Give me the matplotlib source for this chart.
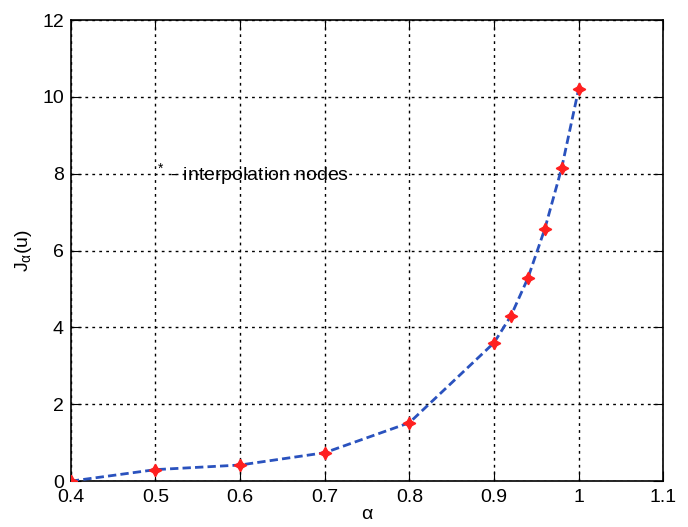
import numpy as np
import matplotlib.pyplot as plt

plt.rcParams['font.family'] = ['Liberation Sans', 'DejaVu Sans']
plt.rcParams['mathtext.fontset'] = 'custom'
plt.rcParams['mathtext.rm'] = 'Liberation Sans'
plt.rcParams['mathtext.it'] = 'Liberation Sans'

# interpolation nodes
alpha = [0.4, 0.5, 0.6, 0.7, 0.8, 0.9, 0.92, 0.94, 0.96, 0.98, 1.0]
J = [0.0, 0.3, 0.42, 0.74, 1.52, 3.6, 4.3, 5.28, 6.56, 8.15, 10.2]

fig = plt.figure(figsize=(6.88, 5.27), dpi=100)
ax = fig.add_axes([0.103, 0.087, 0.861, 0.875])

ax.plot(alpha, J, '--', color='#2a52be', lw=2, dashes=(3, 1.5), zorder=3)
ax.plot(alpha, J, ls='none', marker=(4, 1, 0), color='#ff2020', ms=9, zorder=4)

ax.text(0.5, 8.0, r'$^*$ - interpolation nodes', fontsize=14, va='center', ha='left')

ax.set_xlim(0.4, 1.1)
ax.set_ylim(0, 12)
ax.set_xticks(np.arange(0.4, 1.11, 0.1))
ax.set_xticklabels(['0.4', '0.5', '0.6', '0.7', '0.8', '0.9', '1', '1.1'])
ax.set_yticks(range(0, 13, 2))
ax.tick_params(direction='in', labelsize=14, length=7, top=True, right=True)
ax.tick_params(axis='x', pad=6)
ax.tick_params(axis='y', pad=5)
ax.grid(True, color='black', ls=(0, (2, 3)), lw=1)
ax.set_xlabel(r'$\alpha$', fontsize=14, labelpad=0)
ax.set_ylabel(r'$\mathregular{J_{\alpha}(u)}$', fontsize=14, labelpad=6)
for s in ax.spines.values():
    s.set_linewidth(1.2)

fig.savefig('out.png', dpi=100)
